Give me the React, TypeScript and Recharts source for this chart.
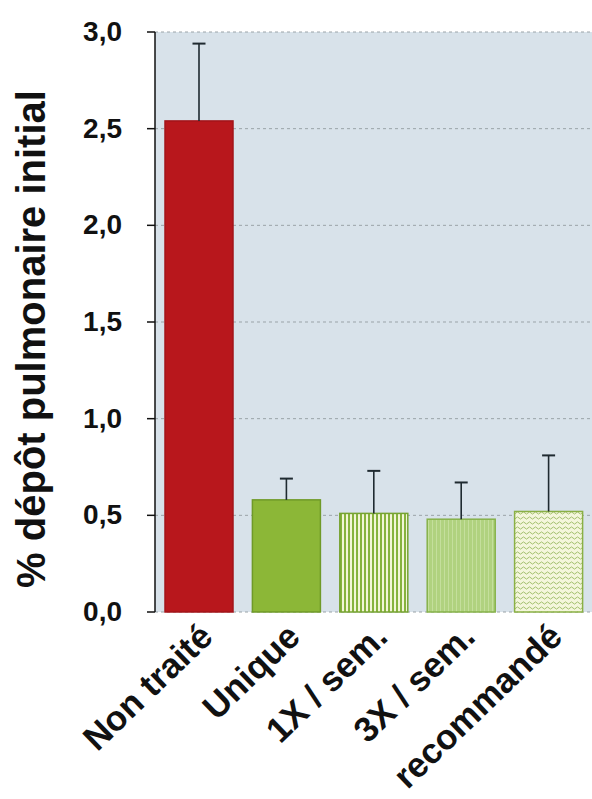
import { BarChart, Bar, XAxis, YAxis, CartesianGrid } from 'recharts';

const categories = ['Non traité', 'Unique', '1X / sem.', '3X / sem.', 'recommandé'];
const means = [2.54, 0.58, 0.51, 0.48, 0.52];
const errTops = [2.94, 0.69, 0.73, 0.67, 0.81];
const yTicks = [0, 0.5, 1.0, 1.5, 2.0, 2.5, 3.0];

const fills = ['#b8171c', '#8cb737', 'url(#stripes)', 'url(#fineStripes)', 'url(#zigzag)'];
const strokes = ['#a3141a', '#6f9a28', '#76a332', '#86b24a', '#8ab045'];

const data = categories.map((name, i) => ({
  name,
  mean: means[i],
  errTop: errTops[i],
  fill: fills[i],
  stroke: strokes[i],
}));

const FONT = '"Liberation Sans", Arial, sans-serif';

// bar rect + upper whisker only (cap at the top, like the source)
function BarWithError(props: any) {
  const { x, y, width, height, payload } = props;
  const pxPerUnit = height / payload.mean;
  const topY = y - (payload.errTop - payload.mean) * pxPerUnit;
  const cx = x + width / 2;
  return (
    <g>
      <rect x={x} y={y} width={width} height={height} fill={payload.fill} stroke={payload.stroke} strokeWidth={1.5} />
      <line x1={cx} y1={y} x2={cx} y2={topY} stroke="#1f2a30" strokeWidth={1.6} />
      <line x1={cx - 6.5} y1={topY} x2={cx + 6.5} y2={topY} stroke="#1f2a30" strokeWidth={2} />
    </g>
  );
}

function CategoryTick(props: any) {
  const { x, y, payload } = props;
  return (
    <g transform={`translate(${x + 16},${y + 19})`}>
      <text transform="rotate(-44)" textAnchor="end" fontFamily={FONT} fontWeight="bold" fontSize={35} fill="#111">
        {payload.value}
      </text>
    </g>
  );
}

function ValueTick(props: any) {
  const { x, y, payload } = props;
  return (
    <text x={x - 23} y={y} dy={9} textAnchor="end" fontFamily={FONT} fontWeight="bold" fontSize={28} fill="#111">
      {payload.value.toFixed(1).replace('.', ',')}
    </text>
  );
}

function TitleLabel() {
  return (
    <text
      transform="translate(45,339) rotate(-90)"
      textAnchor="middle"
      fontFamily={FONT}
      fontWeight="bold"
      fontSize={40}
      fill="#111"
    >
      % dépôt pulmonaire initial
    </text>
  );
}

export default function App() {
  return (
    <div style={{ position: 'absolute', left: 0, top: 0, width: 592, height: 799, background: '#fff' }}>
      <BarChart
        width={592}
        height={799}
        data={data}
        margin={{ top: 32, right: 0, bottom: 7, left: 0 }}
        barSize={68}
      >
        <defs>
          <pattern id="stripes" patternUnits="userSpaceOnUse" width={4} height={4}>
            <rect width={4} height={4} fill="#f2f5d6" />
            <rect width={2} height={4} fill="#86b23c" />
          </pattern>
          <pattern id="fineStripes" patternUnits="userSpaceOnUse" width={4} height={4}>
            <rect width={4} height={4} fill="#b0d27f" />
            <rect width={1} height={4} fill="#c4df9c" />
          </pattern>
          <pattern id="zigzag" patternUnits="userSpaceOnUse" width={6} height={5}>
            <rect width={6} height={5} fill="#f4f6dc" />
            <path d="M0 3 Q1.5 0.8 3 3 T6 3" fill="none" stroke="#a3c06e" strokeWidth={1} />
          </pattern>
        </defs>
        <CartesianGrid
          vertical={false}
          stroke="#9aa3a8"
          strokeDasharray="3 3"
          fill="#d8e2ea"
          fillOpacity={1}
        />
        <XAxis
          dataKey="name"
          height={180}
          axisLine={false}
          tickLine={false}
          interval={0}
          tick={<CategoryTick />}
        />
        <YAxis
          width={155}
          domain={[0, 3]}
          ticks={yTicks}
          axisLine={{ stroke: '#111', strokeWidth: 1.5 }}
          tickLine={{ stroke: '#111', strokeWidth: 1.5 }}
          tickSize={8}
          tick={<ValueTick />}
          label={{ content: <TitleLabel /> }}
        />
        <Bar dataKey="mean" shape={<BarWithError />} isAnimationActive={false} />
      </BarChart>
    </div>
  );
}
